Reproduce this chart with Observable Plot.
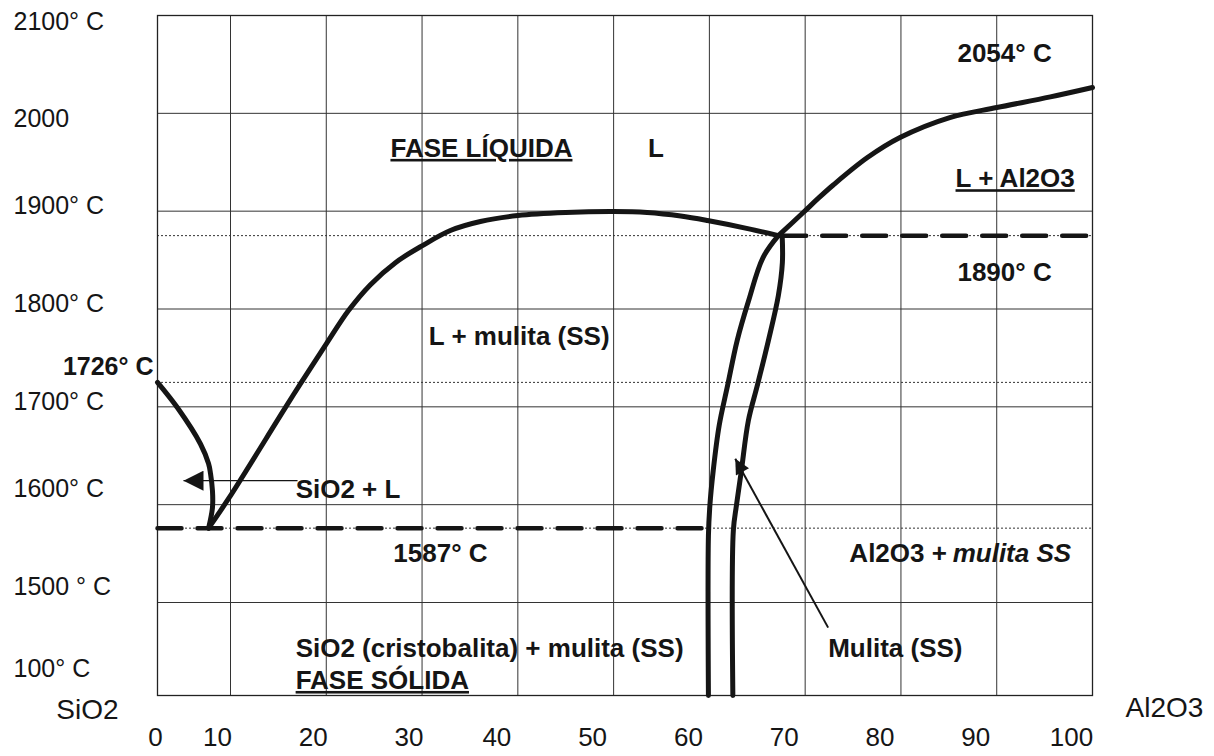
<!DOCTYPE html>
<html><head><meta charset="utf-8">
<script src="https://cdn.jsdelivr.net/npm/d3@7"></script>
<script src="https://cdn.jsdelivr.net/npm/@observablehq/plot@0.6"></script>
<style>
body{margin:0;background:#fff}
#chart svg{display:block}
</style></head><body><div id="chart"></div>
<script>
// ---- axes (x = % Al2O3, y = temperature °C) ----
const xTicks = [0, 10, 20, 30, 40, 50, 60, 70, 80, 90, 100];
const xGrid = [10, 20, 30, 40, 50, 60, 70, 80, 90];
const yTickValues = [2100, 2000, 1900, 1800, 1700, 1600, 1500, 1400];
const yTickLabels = ["2100° C", "2000", "1900° C", "1800° C", "1700° C", "1600° C", "1500 ° C", "100° C"];
const yGrid = [1500, 1600, 1700, 1800, 1900, 2000];

// ---- phase boundaries ----
const silicaLiqX = [0, 2.74, 5.89, 6.99, 7.26, 7.53, 7.53, 7.0];
const silicaLiqT = [1725, 1699, 1662, 1642, 1632, 1614, 1597, 1576];

const mulliteLiqX = [7.0, 9.73, 15.53, 17.31, 20.02, 22.32, 24.61, 27.22, 30.04, 32.96, 36.09, 40, 45, 50, 53.5, 57, 59.8, 64.0, 67.2];
const mulliteLiqT = [1576, 1606.1, 1696.1, 1723.7, 1764.6, 1798.4, 1824.9, 1847.4, 1864.8, 1880.2, 1889.4, 1895.5, 1898.6, 1899.6, 1898.6, 1895, 1890.4, 1882.2, 1875];

const aluminaLiqX = [67.2, 69.8, 71.3, 72.9, 76.5, 79.9, 85.1, 90, 95.6, 100];
const aluminaLiqT = [1875, 1898.6, 1912.5, 1926.5, 1954.8, 1975.3, 1995.7, 2005.9, 2016.8, 2026.4];

const mulliteLeftX = [67.2, 65.6, 64.1, 62.9, 61.9, 61.02, 60.4, 60.05, 59.9, 59.9];
const mulliteLeftT = [1875, 1852.6, 1808.6, 1767.7, 1721.7, 1680.8, 1634.8, 1599.0, 1568.3, 1400];

const mulliteRightX = [67.6, 67.62, 67.2, 66.16, 65.0, 64.07, 63.34, 62.82, 62.5, 62.45];
const mulliteRightT = [1875, 1847.4, 1813.7, 1767.7, 1721.7, 1685.9, 1634.8, 1599.0, 1573.4, 1400];

// isotherms
const eutecticX = [0, 59.9];
const eutecticT = 1576;
const peritecticX = [67.6, 100];
const peritecticT = 1875;
const dottedT = [1875, 1725, 1576];

// arrows (tail -> head)
const arrowTailX = [17.0, 72.4];
const arrowTailT = [1624.5, 1473];
const arrowHeadX = [3.56, 62.7];
const arrowHeadT = [1624.5, 1647];

// labels
const boldText = ["FASE LÍQUIDA", "L", "2054° C", "L + Al2O3", "1890° C", "L + mulita (SS)", "SiO2 + L", "1587° C", "SiO2 (cristobalita) + mulita (SS)", "FASE SÓLIDA", "Mulita (SS)"];
const boldX = [26.7, 53.6, 85.9, 85.7, 85.9, 30.7, 16.8, 27.0, 16.8, 16.8, 72.4];
const boldT = [1964, 1964, 2061, 1933, 1837, 1772, 1615, 1550, 1450.5, 1416, 1450.5];
const mixText = ["Al2O3 +", "mulita SS"];
const mixX = [84.8, 85.4];
const mixT = [1550, 1550];
const meltText = ["1726° C"];
const meltX = [0];
const meltT = [1741];
const underlined = ["FASE LÍQUIDA", "L + Al2O3", "FASE SÓLIDA"];
const endLabels = ["SiO2", "Al2O3"];

// ---- build tables ----
const pts = (xs, ts) => xs.map((x, i) => ({x, T: ts[i]}));
const yTicks = yTickValues.map((v, i) => ({v, label: yTickLabels[i]}));
const labels = (txt, xs, ts) => txt.map((t, i) => ({t, x: xs[i], T: ts[i]}));
const arrows = arrowTailX.map((x, i) => ({x1: x, y1: arrowTailT[i], x2: arrowHeadX[i], y2: arrowHeadT[i]}));

const ink = "#151515";
const font = "'Liberation Sans', Arial, Helvetica, sans-serif";
const curve = (xs, ts) => Plot.line(pts(xs, ts), {x: "x", y: "T", stroke: ink, strokeWidth: 5, curve: "catmull-rom", strokeLinecap: "round", strokeLinejoin: "round"});
const yLab = (filter, dy) => Plot.text(yTicks.filter(filter), {y: "v", text: "label", frameAnchor: "left", textAnchor: "start", dx: -144, dy, fontSize: 25, fill: ink});
const xLab = (filter, dx) => Plot.text(xTicks.filter(filter), {x: d => d, text: d => String(d), frameAnchor: "bottom", dy: 50, dx, fontSize: 26, fill: ink});

const W = 1214, H = 756, mL = 157, mR = 122, mT = 15, mB = 61;

const svg = Plot.plot({
  width: W, height: H,
  marginLeft: mL, marginRight: mR, marginTop: mT, marginBottom: mB,
  x: {type: "linear", domain: [0, 10, 100], range: [mL, mL + 73, W - mR], axis: null},
  y: {type: "linear", domain: [1400, 1500, 2100], range: [H - mB, H - mB - 93, mT], axis: null},
  style: {fontFamily: font, background: "#fff", color: ink, overflow: "visible"},
  marks: [
    Plot.ruleX(xGrid, {stroke: "#333", strokeWidth: 1}),
    Plot.ruleY(yGrid, {stroke: "#333", strokeWidth: 1}),
    Plot.ruleY(dottedT, {stroke: "#333", strokeWidth: 1, strokeDasharray: "2,2"}),
    Plot.frame({stroke: "#222", strokeWidth: 1.3}),
    Plot.line(pts(eutecticX, eutecticX.map(() => eutecticT)), {x: "x", y: "T", stroke: ink, strokeWidth: 4.5, strokeDasharray: "24,16"}),
    Plot.line(pts(peritecticX, peritecticX.map(() => peritecticT)), {x: "x", y: "T", stroke: ink, strokeWidth: 4.5, strokeDasharray: "24,16"}),
    curve(silicaLiqX, silicaLiqT),
    curve(mulliteLiqX, mulliteLiqT),
    curve(aluminaLiqX, aluminaLiqT),
    curve(mulliteLeftX, mulliteLeftT),
    curve(mulliteRightX, mulliteRightT),
    Plot.link(arrows, {x1: "x1", y1: "y1", x2: "x2", y2: "y2", stroke: ink, strokeWidth: (d, i) => i === 0 ? 1.3 : 2}),
    // axis labels
    yLab(d => d.v >= 2000, 6),
    yLab(d => d.v < 2000 && d.v >= 1700, -5),
    yLab(d => d.v < 1700 && d.v >= 1500, -16),
    yLab(d => d.v < 1500, -27),
    xLab(d => d === 0, -2),
    xLab(d => d > 0 && d <= 30, -13),
    xLab(d => d > 30, -21),
    Plot.text([endLabels[0]], {x: () => 0, y: () => 1400, text: d => d, textAnchor: "end", dx: -39, dy: 15, fontSize: 28, fill: ink}),
    Plot.text([endLabels[1]], {x: () => 100, y: () => 1400, text: d => d, textAnchor: "start", dx: 33, dy: 13, fontSize: 28, fill: ink}),
    // phase labels
    Plot.text(labels(boldText, boldX, boldT), {x: "x", y: "T", text: "t", textAnchor: "start", fontWeight: "bold", fontSize: 26, fill: ink}),
    Plot.text(labels(mixText.slice(0, 1), mixX.slice(0, 1), mixT.slice(0, 1)), {x: "x", y: "T", text: "t", textAnchor: "end", fontWeight: "bold", fontSize: 26, fill: ink}),
    Plot.text(labels(mixText.slice(1), mixX.slice(1), mixT.slice(1)), {x: "x", y: "T", text: "t", textAnchor: "start", fontWeight: "bold", fontStyle: "italic", fontSize: 26, fill: ink}),
    Plot.text(labels(meltText, meltX, meltT), {x: "x", y: "T", text: "t", textAnchor: "end", dx: -4, fontWeight: "bold", fontSize: 25, fill: ink})
  ]
});

// filled arrowheads
const ns = "http://www.w3.org/2000/svg";
const defs = document.createElementNS(ns, "defs");
defs.innerHTML =
  '<marker id="ah0" viewBox="0 0 20 20" refX="20" refY="10" markerWidth="21" markerHeight="20" markerUnits="userSpaceOnUse" orient="auto"><path d="M0,0L20,10L0,20Z" fill="' + ink + '"/></marker>' +
  '<marker id="ah1" viewBox="0 0 20 20" refX="20" refY="10" markerWidth="17" markerHeight="15" markerUnits="userSpaceOnUse" orient="auto"><path d="M0,0L20,10L0,20Z" fill="' + ink + '"/></marker>';
svg.insertBefore(defs, svg.firstChild);
d3.select(svg).selectAll('g[aria-label="link"] path').attr("marker-end", (d, i) => "url(#ah" + i + ")");
d3.select(svg).selectAll("text").filter(function () { return underlined.includes(this.textContent); })
  .style("text-decoration", "underline");

document.getElementById("chart").append(svg);
</script></body></html>
